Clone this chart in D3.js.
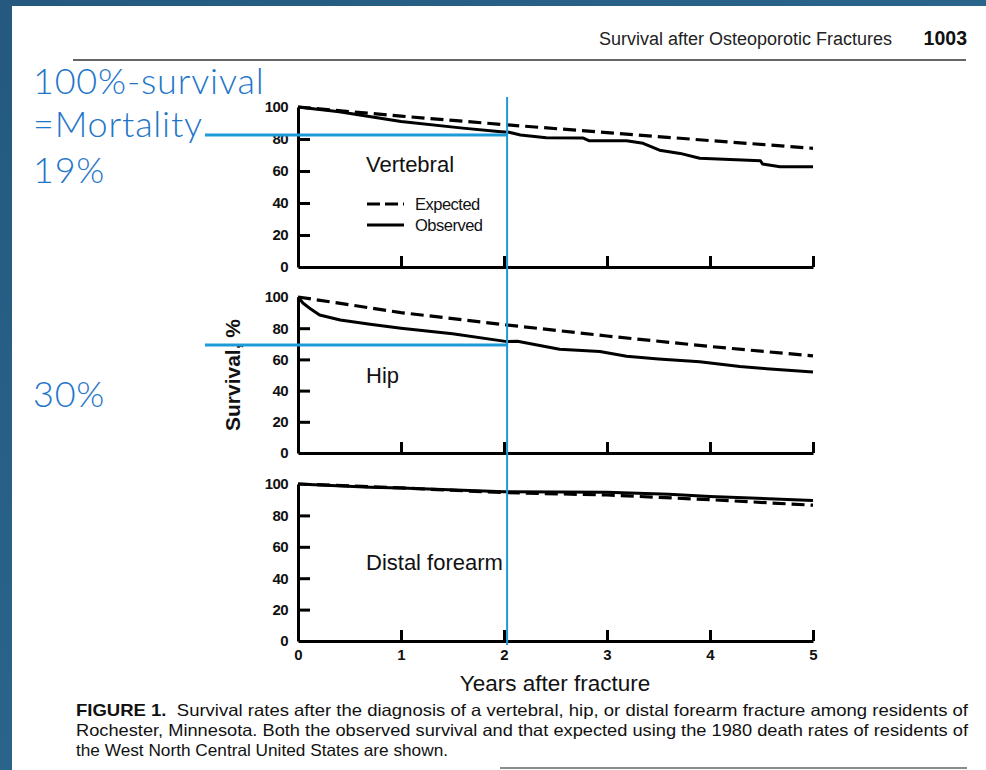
<!DOCTYPE html>
<html><head><meta charset="utf-8">
<script src="https://cdn.jsdelivr.net/npm/d3@7"></script>
<style>
html,body{margin:0;padding:0;background:#29628e;}
svg{display:block;}
</style></head>
<body>
<svg id="chart" width="986" height="770"></svg>
<script>
// ---------- data ----------
const panels = ["Vertebral", "Hip", "Distal forearm"];
const xTicks = [0, 1, 2, 3, 4, 5];
const yTicks = [0, 20, 40, 60, 80, 100];
const legendLabels = ["Expected", "Observed"];

const vertebralExpectedYears  = [0, 1, 2, 3, 4, 5];
const vertebralExpectedValues = [100, 94.3, 89, 84, 79, 74.2];
const vertebralObservedYears  = [0, 0.4, 1, 1.6, 1.97, 2.05, 2.16, 2.41, 2.77, 2.83, 3.19, 3.35, 3.51, 3.71, 3.9, 4.49, 4.51, 4.68, 5];
const vertebralObservedValues = [100, 97, 91, 86.8, 84.6, 84.2, 82.5, 80.8, 80.6, 78.9, 78.9, 77.3, 73, 71, 68, 66.4, 64.4, 62.7, 62.7];

const hipExpectedYears  = [0, 1, 2, 3, 4, 5];
const hipExpectedValues = [100, 90, 82.3, 75, 68.3, 62.2];
const hipObservedYears  = [0, 0.05, 0.12, 0.21, 0.41, 0.7, 1, 1.5, 2.03, 2.13, 2.54, 2.93, 3.19, 3.5, 3.9, 4.29, 4.55, 5];
const hipObservedValues = [100, 96, 92.5, 88.5, 85.3, 82.5, 80, 76.5, 71.4, 71.6, 66.5, 65, 62, 60.3, 58.5, 55.5, 54, 52];

const forearmExpectedYears  = [0, 1, 2, 3, 4, 5];
const forearmExpectedValues = [100, 97.5, 94.5, 93, 90, 86.5];
const forearmObservedYears  = [0, 0.7, 1, 2, 3, 3.6, 4, 5];
const forearmObservedValues = [100, 98, 97.5, 95, 94.8, 93.5, 92, 89.5];

const annotationYear = 2.03;
const annotationVertebral = 82.5;
const annotationHip = 69.3;
const annotationTexts = ["100%-survival", "=Mortality", "19%", "30%"];

const headerTitle = "Survival after Osteoporotic Fractures";
const headerPage = "1003";
const captionLines = [
  ["FIGURE 1.", "  Survival rates after the diagnosis of a vertebral, hip, or distal forearm fracture among residents of"],
  ["", "Rochester, Minnesota. Both the observed survival and that expected using the 1980 death rates of residents of"],
  ["", "the West North Central United States are shown."]
];

// ---------- drawing ----------
const svg = d3.select("#chart");
const defs = svg.append("defs");
const grad = defs.append("linearGradient").attr("id","bg").attr("x1","0").attr("y1","0").attr("x2","1").attr("y2","1");
grad.append("stop").attr("offset","0").attr("stop-color","#25597f");
grad.append("stop").attr("offset","1").attr("stop-color","#2e6f98");
svg.append("rect").attr("width",986).attr("height",770).attr("fill","url(#bg)");
svg.append("rect").attr("x",12).attr("y",6).attr("width",974).attr("height",764).attr("fill","#fff");

const serif = "'Liberation Sans', Arial, Helvetica, sans-serif";

// header
svg.append("text").attr("x",892).attr("y",45).attr("text-anchor","end")
  .attr("font-family",serif).attr("font-size",18).attr("fill","#222").text(headerTitle);
svg.append("text").attr("x",967).attr("y",45).attr("text-anchor","end")
  .attr("font-family",serif).attr("font-size",19.5).attr("font-weight","bold").attr("fill","#111").text(headerPage);
svg.append("line").attr("x1",73).attr("x2",966).attr("y1",60).attr("y2",60)
  .attr("stroke","#333").attr("stroke-width",1.6);

const x = d3.scaleLinear().domain([0,5]).range([298,813]);
const yScales = [
  d3.scaleLinear().domain([0,100]).range([267,107]),
  d3.scaleLinear().domain([0,100]).range([453,297]),
  d3.scaleLinear().domain([0,100]).range([641,484])
];
const seriesSets = [
  [vertebralExpectedYears, vertebralExpectedValues, vertebralObservedYears, vertebralObservedValues],
  [hipExpectedYears, hipExpectedValues, hipObservedYears, hipObservedValues],
  [forearmExpectedYears, forearmExpectedValues, forearmObservedYears, forearmObservedValues]
];
const labelBaselines = [172, 383, 570];

panels.forEach((name, i) => {
  const y = yScales[i];
  const g = svg.append("g");
  // y axis
  const ya = g.append("g").attr("transform",`translate(${x(0)},0)`)
    .call(d3.axisLeft(y).tickValues(yTicks).tickFormat(d3.format("d")).tickSize(-12).tickSizeOuter(0).tickPadding(10));
  ya.select(".domain").attr("stroke","#000").attr("stroke-width",3);
  ya.selectAll(".tick line").attr("stroke","#000").attr("stroke-width",3)
    .attr("display", d => (d === 0 || d === 100) ? "none" : null);
  ya.selectAll(".tick text").attr("font-family",serif).attr("font-size",15).attr("font-weight","bold")
    .attr("fill","#111").attr("letter-spacing","-0.6");
  // x axis
  const xa = g.append("g").attr("transform",`translate(0,${y(0)})`)
    .call(d3.axisBottom(x).tickValues(xTicks).tickFormat(d3.format("d")).tickSize(-11).tickSizeOuter(0).tickPadding(8));
  xa.select(".domain").attr("stroke","#000").attr("stroke-width",3);
  xa.selectAll(".tick line").attr("stroke","#000").attr("stroke-width",3)
    .attr("display", d => d === 0 ? "none" : null);
  xa.selectAll(".tick text").attr("font-family",serif).attr("font-size",15).attr("font-weight","bold")
    .attr("fill","#111").attr("display", i === 2 ? null : "none");

  const [ey, ev, oy, ov] = seriesSets[i];
  const line = d3.line().x(d => x(d[0])).y(d => y(d[1]));
  g.append("path").datum(d3.zip(ey, ev)).attr("d", line).attr("fill","none")
    .attr("stroke","#000").attr("stroke-width",3.2).attr("stroke-dasharray","13,6");
  g.append("path").datum(d3.zip(oy, ov)).attr("d", line).attr("fill","none")
    .attr("stroke","#000").attr("stroke-width",3).attr("stroke-linejoin","round");

  g.append("text").attr("x",366).attr("y",labelBaselines[i]).attr("font-family",serif)
    .attr("font-size",22).attr("fill","#111").text(name);
});

// legend (in vertebral panel)
const lg = svg.append("g");
[[204,"13,5"],[225,null]].forEach((r, j) => {
  lg.append("line").attr("x1",367).attr("x2",404).attr("y1",r[0]).attr("y2",r[0])
    .attr("stroke","#000").attr("stroke-width",3).attr("stroke-dasharray", r[1]);
  lg.append("text").attr("x",415).attr("y",r[0]+6).attr("font-family",serif)
    .attr("font-size",16.5).attr("fill","#111").attr("letter-spacing","-0.5").text(legendLabels[j]);
});

// axis titles
svg.append("text").attr("transform","translate(240,375) rotate(-90)").attr("text-anchor","middle")
  .attr("font-family",serif).attr("font-size",21).attr("font-weight","bold").attr("fill","#111").text("Survival, %");
svg.append("text").attr("x",555).attr("y",691).attr("text-anchor","middle")
  .attr("font-family",serif).attr("font-size",22.5).attr("fill","#111").text("Years after fracture");

// caption
captionLines.forEach((ln, k) => {
  const t = svg.append("text").attr("x",76).attr("y",716 + k*20).attr("font-family",serif)
    .attr("font-size",16.5).attr("fill","#111").attr("xml:space","preserve");
  if (k < 2) t.attr("textLength", 892).attr("lengthAdjust","spacingAndGlyphs");
  else t.attr("textLength", 372).attr("lengthAdjust","spacingAndGlyphs");
  if (ln[0]) t.append("tspan").attr("font-weight","bold").text(ln[0]);
  t.append("tspan").text(ln[1]);
});
svg.append("line").attr("x1",500).attr("x2",967).attr("y1",768).attr("y2",768).attr("stroke","#666").attr("stroke-width",1.5);

// blue annotations
const blue = "#1e9ad7", blueText = "#1f76c9";
svg.append("line").attr("x1",x(annotationYear)).attr("x2",x(annotationYear)).attr("y1",97).attr("y2",645)
  .attr("stroke",blue).attr("stroke-width",2);
svg.append("line").attr("x1",205).attr("x2",x(annotationYear)).attr("y1",yScales[0](annotationVertebral)).attr("y2",yScales[0](annotationVertebral))
  .attr("stroke",blue).attr("stroke-width",3);
svg.append("line").attr("x1",205).attr("x2",x(annotationYear)).attr("y1",yScales[1](annotationHip)).attr("y2",yScales[1](annotationHip))
  .attr("stroke",blue).attr("stroke-width",3);
const annoFont = "Lato, 'Noto Sans', sans-serif";
[[94,0],[137,1],[183,2],[407,3]].forEach(([yy, k]) => {
  svg.append("text").attr("x",33).attr("y",yy).attr("font-family",annoFont).attr("font-weight",300)
    .attr("font-size",36).attr("letter-spacing",0.8).attr("fill",blueText).text(annotationTexts[k]);
});
</script>
</body></html>
